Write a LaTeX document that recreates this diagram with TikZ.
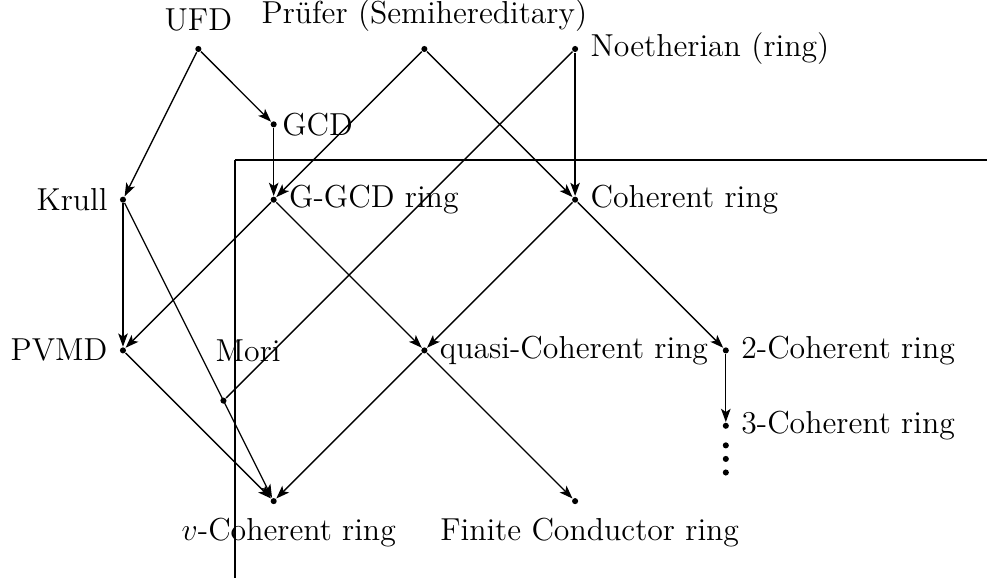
\documentclass[tikz,border=0pt]{standalone}
\usepackage{fontspec}
\usetikzlibrary{arrows.meta}
\begin{document}
\begin{tikzpicture}[x=2cm,y=2cm,
  every node/.style={font=\fontsize{12pt}{14.5pt}\selectfont},
  dot/.style={circle,fill,inner sep=0pt,minimum size=2.3pt},
  lbl/.style={inner sep=0pt},
  line width=0.5pt,
  arr/.style={-{Stealth[length=5pt,width=3.6pt,inset=1.2pt]}},
  ]
\useasboundingbox (-0.816,0.325) rectangle (5.733,-3.504);
% frame lines
\coordinate (fr) at (0.743,-0.737);
\coordinate (frR) at (6,-0.737);
\coordinate (frB) at (0.743,-4);
\draw (fr) -- (frR);
\draw (fr) -- (frB);
% points
\node[dot] (ufd) at (0.5,0) {};
\node[dot] (pru) at (2,0) {};
\node[dot] (noe) at (3,0) {};
\node[dot] (gcd) at (1,-0.5) {};
\node[dot] (kru) at (0,-1) {};
\node[dot] (ggcd) at (1,-1) {};
\node[dot] (coh) at (3,-1) {};
\node[dot] (pvmd) at (0,-2) {};
\node[dot] (mori) at (0.6667,-2.3333) {};
\node[dot] (qcoh) at (2,-2) {};
\node[dot] (cohb) at (4,-2) {};
\node[dot] (cohc) at (4,-2.5) {};
\node[dot] (da) at (4,-2.63) {};
\node[dot] (db) at (4,-2.72) {};
\node[dot] (dc) at (4,-2.81) {};
\node[dot] (vcoh) at (1,-3) {};
\node[dot] (fc) at (3,-3) {};
% labels
\node[lbl,anchor=south,yshift=6.3pt] (ufdl) at (ufd) {UFD};
\node[lbl,anchor=south,yshift=6.3pt] (prul) at (pru) {Prüfer (Semihereditary)};
\node[lbl,anchor=west,xshift=5.6pt] (noel) at (noe) {Noetherian (ring)};
\node[lbl,anchor=west,xshift=3pt] (gcdl) at (gcd) {GCD};
\node[lbl,anchor=east,xshift=-5.6pt] (krul) at (kru) {Krull};
\node[lbl,anchor=west,xshift=5.6pt] (ggcdl) at (ggcd) {G-GCD ring};
\node[lbl,anchor=west,xshift=5.6pt] (cohl) at (coh) {Coherent ring};
\node[lbl,anchor=east,xshift=-5.6pt] (pvmdl) at (pvmd) {PVMD};
\node[lbl,anchor=west] (moril) at (0.611,-2) {Mori};
\node[lbl,anchor=west,xshift=5.6pt] (qcohl) at (qcoh) {quasi-Coherent ring};
\node[lbl,anchor=west,xshift=5.6pt] (cohbl) at (cohb) {2-Coherent ring};
\node[lbl,anchor=west,xshift=5.6pt] (cohcl) at (cohc) {3-Coherent ring};
\node[lbl,anchor=base,xshift=5.7pt,yshift=-15pt] (vcohl) at (vcoh) {$v$-Coherent ring};
\node[lbl,anchor=base,xshift=5.5pt,yshift=-15pt] (fcl) at (fc) {Finite Conductor ring};
% edges
\draw[arr] (ufd) -- (gcd);
\draw[arr] (ufd) -- (kru);
\draw[arr] (gcd) -- (ggcd);
\draw[arr] (pru) -- (ggcd);
\draw[arr] (pru) -- (coh);
\draw[arr] (noe) -- (coh);
\draw (noe) -- (mori);
\draw[arr] (kru) -- (pvmd);
\draw[arr] (kru) -- (vcoh);
\draw[arr] (ggcd) -- (pvmd);
\draw[arr] (ggcd) -- (qcoh);
\draw[arr] (coh) -- (qcoh);
\draw[arr] (coh) -- (cohb);
\draw[arr] (pvmd) -- (vcoh);
\draw[arr] (qcoh) -- (vcoh);
\draw[arr] (qcoh) -- (fc);
\draw[arr] (cohb) -- (cohc);
\end{tikzpicture}
\end{document}
